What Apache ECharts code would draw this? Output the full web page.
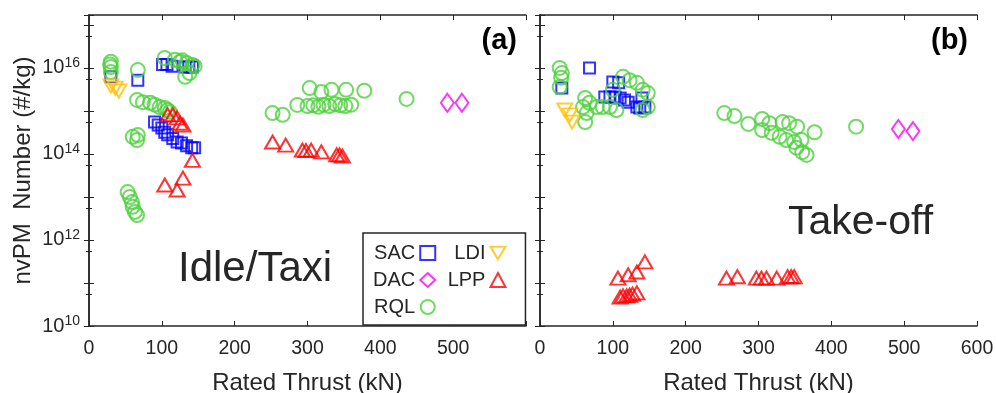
<!DOCTYPE html>
<html><head><meta charset="utf-8">
<script src="https://cdn.jsdelivr.net/npm/echarts@6/dist/echarts.min.js"></script>
<style>html,body{margin:0;padding:0;background:#fff}#c{width:996px;height:393px}</style>
</head><body><div id="c"></div>
<script>
// ---------- data: [rated thrust kN, nvPM number #/kg] ----------
const idleSAC = [[30,6.2e15],[67,5.2e15],[101,1.2e16],[107,1.2e16],[114,1.1e16],[132,1.05e16],[137,1.05e16],[142,1.05e16],
  [90,5.5e14],[95,4.7e14],[100,4.0e14],[104,3.2e14],[108,2.8e14],[115,2.3e14],[121,1.9e14],[127,1.8e14],[134,1.55e14],[141,1.4e14],[145,1.4e14]];
const idleDAC = [[492,1.55e15],[512,1.55e15]];
const idleRQL = [[30,1.4e16],[30,1.05e16],[30,8e15],[29,1.2e16],[67,8.9e15],
  [104,1.7e16],[118,1.55e16],[125,1.4e16],[134,1.3e16],[142,1.17e16],[138,7.6e15],[132,6.2e15],[145,1.1e16],[128,1.5e16],
  [66,1.8e15],[74,1.6e15],[84,1.55e15],[90,1.4e15],[97,1.23e15],[104,1.17e15],[108,1.05e15],[111,9.5e14],
  [60,2.5e14],[67,2.75e14],[66,2.1e14],
  [53,1.3e13],[56,1.0e13],[59,7.6e12],[60,5.9e12],[63,4.5e12],[66,3.8e12],
  [252,8.9e14],[266,8.1e14],[286,1.38e15],[303,3.4e15],[319,2.75e15],[333,3.1e15],[353,3.1e15],[378,2.95e15],[436,1.9e15],
  [300,1.3e15],[308,1.35e15],[315,1.25e15],[322,1.4e15],[330,1.3e15],[338,1.45e15],[345,1.35e15],[352,1.3e15],[360,1.4e15]];
const idleLDI = [[30,3.8e15],[36,3.4e15],[41,2.9e15]];
const idleLPP = [[108,8.1e14],[115,8.1e14],[121,6.9e14],[125,5.2e14],[129,4.7e14],[142,7.1e13],[104,1.9e13],[121,1.45e13],[129,2.75e13],
  [252,1.9e14],[270,1.6e14],[293,1.23e14],[298,1.2e14],[305,1.23e14],[319,1.12e14],[340,9.5e13],[344,9.5e13],[348,8.9e13]];

const toSAC = [[30,3.4e15],[68,1.0e16],[100,4.7e15],[108,4.5e15],[89,2.1e15],[96,2.1e15],[103,2.1e15],[110,2.0e15],[116,1.8e15],[121,1.6e15],[140,2.0e15],[133,1.23e15],[137,1.17e15],[144,1.23e15]];
const toDAC = [[492,3.8e14],[512,3.4e14]];
const toRQL = [[27,1.0e16],[30,7.6e15],[29,5.9e15],[27,3.6e15],
  [62,2.0e15],[59,1.23e15],[64,8.9e14],[62,5.5e14],[68,1.55e15],[78,1.23e15],[86,1.23e15],[96,1.23e15],[105,1.05e15],[100,3.1e15],[114,6.2e15],[123,5.2e15],[133,4.5e15],[141,3.1e15],[148,2.6e15],[148,1.23e15],[141,1.05e15],
  [253,8.9e14],[267,7.6e14],[286,5.0e14],[305,6.5e14],[315,5.2e14],[333,5.5e14],[342,5.2e14],[353,4.3e14],[305,3.6e14],[318,3.1e14],[329,2.5e14],[338,2.1e14],[349,1.9e14],[359,2.1e14],[352,1.4e14],[360,1.1e14],[366,9.5e13],[377,3.2e14],[434,4.3e14]];
const toLDI = [[34,1.05e15],[41,8.1e14],[44,5.5e14]];
const toLPP = [[107,1.3e11],[121,1.55e11],[133,1.8e11],[144,3.1e11],[110,4.7e10],[114,5.0e10],[119,5.0e10],[123,5.2e10],[127,5.5e10],[133,5.9e10],
  [256,1.3e11],[271,1.4e11],[297,1.3e11],[304,1.3e11],[311,1.3e11],[325,1.3e11],[340,1.4e11],[345,1.4e11],[349,1.4e11]];

const groupNames = ['SAC','DAC','RQL','LDI','LPP'];
const panelLabels = ['(a)','(b)'];
const phaseLabels = ['Idle/Taxi','Take-off'];
const xTitle = 'Rated Thrust (kN)';
const yTitle = 'nvPM  Number (#/kg)';

// ---------- styling ----------
const FONT = 'Liberation Sans, Arial, Helvetica, sans-serif';
const INK = '#262626';
const sty = {
  SAC: {symbol:'rect', size:11, rot:0, c:'#0000FF'},
  DAC: {symbol:'diamond', size:[13,18], rot:0, c:'#FF00FF'},
  RQL: {symbol:'circle', size:14, rot:0, c:'#4CD13C'},
  LDI: {symbol:'triangle', size:[15,13], rot:180, c:'#FFC000'},
  LPP: {symbol:'triangle', size:[15,13], rot:0, c:'#FF0000'}
};
const panels = [[idleSAC,idleDAC,idleRQL,idleLDI,idleLPP],[toSAC,toDAC,toRQL,toLDI,toLPP]];

const grids = [
  {left:89, top:15, width:437, height:311, outerBoundsMode:'none', containLabel:false},
  {left:540, top:15, width:437, height:311, outerBoundsMode:'none', containLabel:false}
];
const xAxes = [], yAxes = [], series = [];
grids.forEach((g, gi) => {
  const base = {type:'value', min:0, max:600, interval:100, gridIndex:gi,
    axisLine:{show:true, lineStyle:{color:INK, width:1.5}},
    axisTick:{show:true, inside:true, length:5, lineStyle:{color:INK}},
    splitLine:{show:false}};
  xAxes.push(Object.assign({}, base, {position:'bottom',
    name: xTitle, nameLocation:'middle', nameGap:45,
    nameTextStyle:{fontSize:24, color:INK, fontFamily:FONT},
    axisLabel:{show:true, margin:13, fontSize:19.5, color:INK, fontFamily:FONT,
      formatter: v => (gi===0 && v===600) ? '' : String(v)}}));
  xAxes.push(Object.assign({}, base, {position:'top', axisLabel:{show:false}}));
  const ybase = {type:'log', logBase:10, min:1e10, max:1.7e17, gridIndex:gi, splitNumber:4,
    axisLine:{show:true, lineStyle:{color:INK, width:1.5}},
    axisTick:{show:true, inside:true, length:5, lineStyle:{color:INK}},
    minorTick:{show:true, splitNumber:2, length:3, lineStyle:{color:INK}},
    splitLine:{show:false}};
  yAxes.push(Object.assign({}, ybase, {position:'left',
    name: gi===0 ? yTitle : '', nameLocation:'middle', nameGap:54,
    nameTextStyle:{fontSize:24, color:INK, fontFamily:FONT},
    axisLabel:{show: gi===0, margin:9, fontFamily:FONT,
      formatter: v => { const e = Math.log10(v); const r = Math.round(e);
        if (Math.abs(e-r) > 1e-6 || r % 2) return ''; return '{a|10}{b|' + r + '}'; },
      rich:{a:{fontSize:20, color:INK, fontFamily:FONT},
            b:{fontSize:14, color:INK, fontFamily:FONT, verticalAlign:'top', padding:[0,0,10,0]}}}}));
  yAxes.push(Object.assign({}, ybase, {position:'right', axisLabel:{show:false}}));
  panels[gi].forEach((d, k) => {
    const s = sty[groupNames[k]];
    series.push({type:'scatter', name:groupNames[k], data:d,
      xAxisIndex: gi*2, yAxisIndex: gi*2,
      symbol:s.symbol, symbolSize:s.size, symbolRotate:s.rot,
      itemStyle:{color:'rgba(0,0,0,0)', borderColor:s.c, borderWidth:2},
      emphasis:{disabled:true}, silent:true});
  });
});

const legendIcons = {
  SAC:'rect', DAC:'diamond', RQL:'circle',
  LDI:'path://M0,0 L20,0 L10,17 Z', LPP:'triangle'
};

const option = {
  animation:false,
  backgroundColor:'#fff',
  textStyle:{fontFamily:FONT},
  grid: grids,
  xAxis: xAxes,
  yAxis: yAxes,
  series: series,
  legend: {
    orient:'vertical', left:363, top:233, height:76,
    align:'right', itemGap:7, itemWidth:15, itemHeight:14,
    padding:[10,19,8,10],
    borderColor:INK, borderWidth:1.5, backgroundColor:'#fff',
    selectedMode:false,
    textStyle:{fontSize:20, color:INK, fontFamily:FONT},
    data: groupNames.map(n => ({name:n, icon:legendIcons[n],
      itemStyle:{color:'rgba(0,0,0,0)', borderColor:sty[n].c, borderWidth:2}}))
  },
  graphic: [
    {type:'text', left:178, top:248, style:{text:phaseLabels[0], font:'42px '+FONT, fill:INK}},
    {type:'text', left:788, top:202, style:{text:phaseLabels[1], font:'41px '+FONT, fill:INK}},
    {type:'text', right:996-517, top:26, style:{text:panelLabels[0], font:'bold 29px '+FONT, fill:'#000'}},
    {type:'text', right:996-968, top:26, style:{text:panelLabels[1], font:'bold 29px '+FONT, fill:'#000'}}
  ]
};
const chart = echarts.init(document.getElementById('c'), null, {renderer:'canvas'});
chart.setOption(option);
</script></body></html>
